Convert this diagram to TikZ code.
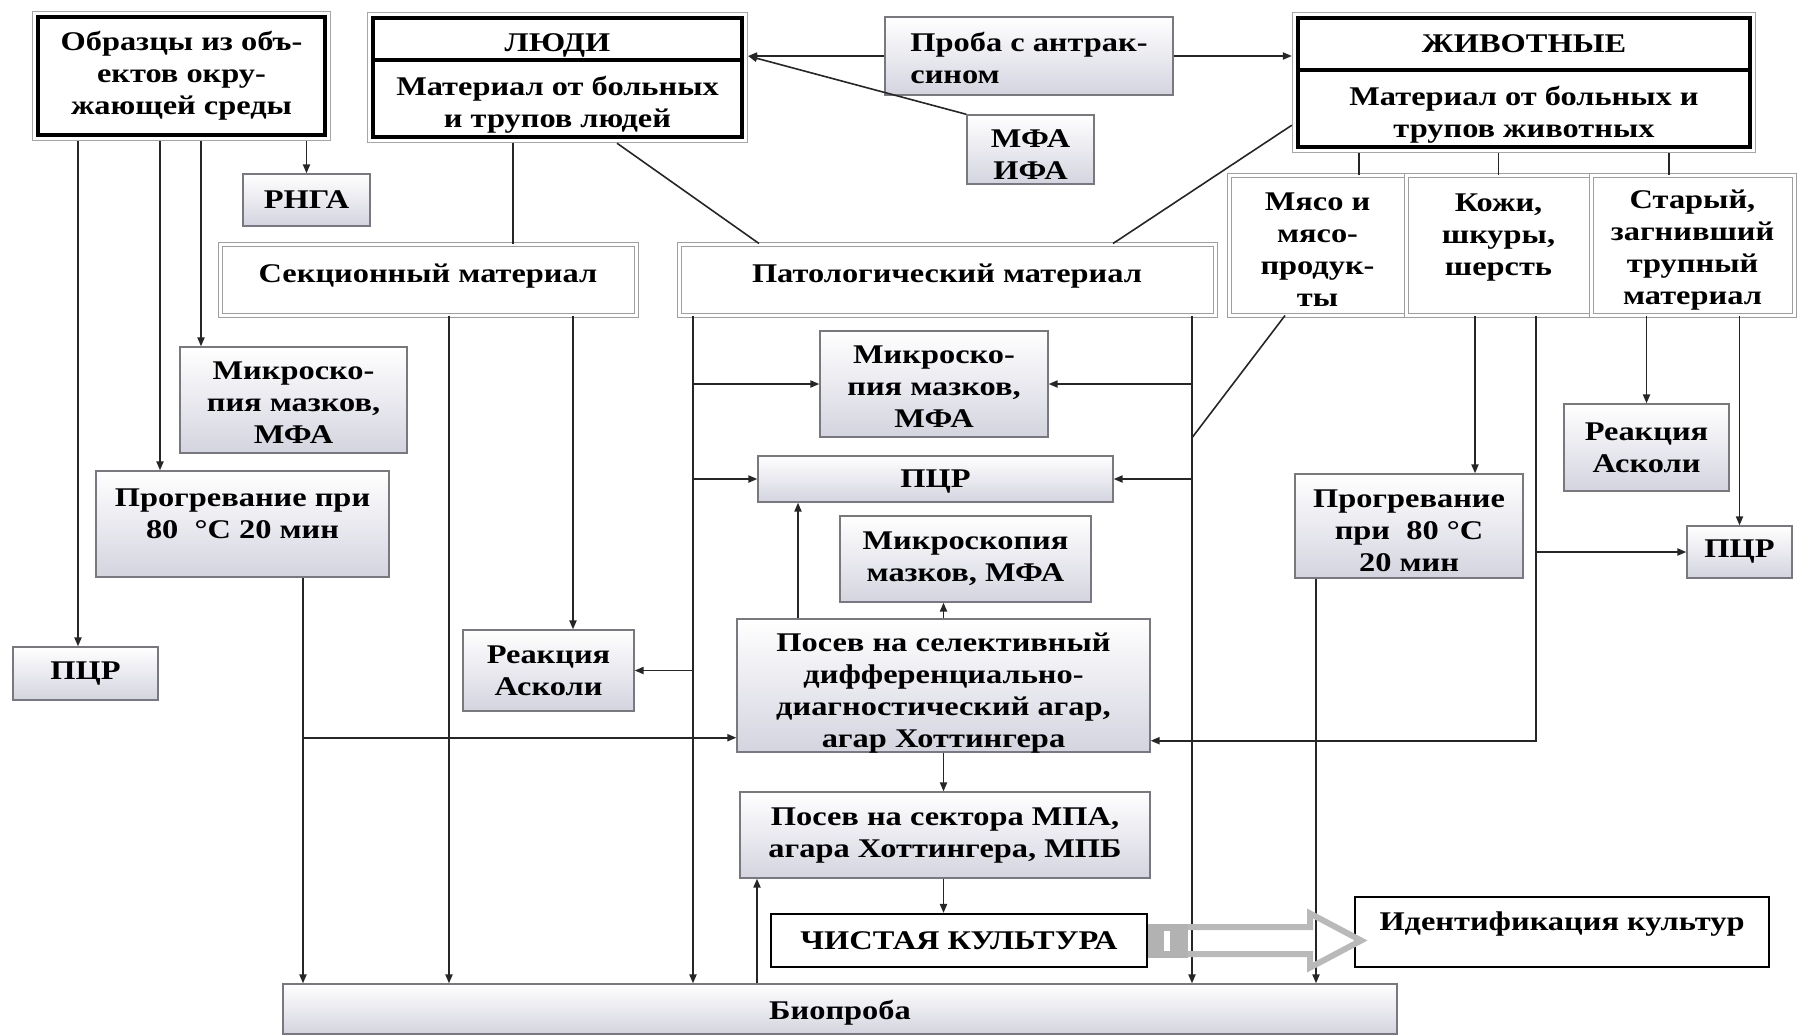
\documentclass[tikz,border=0pt]{standalone}
\usepackage{fontspec}
\setmainfont{Liberation Serif}[FakeStretch=1.2]
\usetikzlibrary{arrows.meta,calc,fit}

\definecolor{boxbot}{RGB}{212,212,224}
\definecolor{boxline}{RGB}{120,120,126}

\tikzset{
	txt/.style={font=\fontsize{13.5}{16}\selectfont\bfseries, align=center, inner sep=0pt},
	shbox/.style={draw=boxline, line width=0.7pt, inner sep=0pt, top color=white, bottom color=boxbot},
	dblbox/.style={draw=gray!75, line width=0.5pt, inner sep=0pt, double=white, double distance=1.5pt},
	topbox/.style={draw=black, line width=1.6pt, inner sep=0pt, fill=white},
	outframe/.style={draw=gray!70, line width=0.6pt, inner sep=2pt},
	plainbox/.style={draw=black, line width=1.1pt, inner sep=0pt, fill=white},
	arr/.style={-{Triangle[length=4.5pt,width=3.6pt]}, line width=0.8pt, draw=black!85},
	ln/.style={line width=0.8pt, draw=black!85},
	bigarr/.style={draw=gray!55, line width=3pt, line join=miter},
}

\begin{document}
\begin{tikzpicture}[x=0.5pt,y=0.5pt,yscale=-1]
	\useasboundingbox (0,0) rectangle (1798,1035);
	
	% Sources
	\node (obr) [topbox, fit={(38,17) (325,135)}, label={[txt]center:{Образцы из объ-\\ектов окру-\\жающей среды}}] {};
	\node (obrF) [outframe, fit=(obr)] {};
	\node (ludi) [topbox, fit={(373,18) (742,60)}, label={[txt,yshift=-3pt]center:{ЛЮДИ}}] {};
	\node (ludiM) [topbox, fit={(373,60) (742,137)}, label={[txt,yshift=-3pt]center:{Материал от больных\\и трупов людей}}] {};
	\node (ludiF) [outframe, fit={(ludi) (ludiM)}] {};
	\node (anim) [topbox, fit={(1298,18) (1750,70)}, label={[txt]center:{ЖИВОТНЫЕ}}] {};
	\node (animM) [topbox, fit={(1298,70) (1750,147)}, label={[txt,yshift=-3pt]center:{Материал от больных и\\трупов животных}}] {};
	\node (animF) [outframe, fit={(anim) (animM)}] {};
	\node (proba) [shbox, fit={(885,17) (1173,95)}, label={[txt,align=left,yshift=-1pt]center:{Проба с антрак-\\сином}}] {};
	\node (mfa) [shbox, fit={(967,115) (1094,184)}, label={[txt,yshift=-2.5pt]center:{МФА\\ИФА}}] {};
	
	% Materials
	\node (rnga) [shbox, fit={(243,174) (370,226)}, label={[txt]center:{РНГА}}] {};
	\node (sek) [dblbox, fit={(220,244) (636,315)}, label={[txt,yshift=1.5pt]center:{Секционный материал}}] {};
	\node (pat) [dblbox, fit={(679,244) (1215,315)}, label={[txt,yshift=1.5pt]center:{Патологический материал}}] {};
	\node (meat) [dblbox, fit={(1229,175) (1406,315)}, label={[txt,yshift=-2.5pt]center:{Мясо и\\мясо-\\продук-\\ты}}] {};
	\node (skin) [dblbox, fit={(1406,175) (1591,315)}, label={[txt,yshift=3.5pt]center:{Кожи,\\шкуры,\\шерсть}}] {};
	\node (old) [dblbox, fit={(1591,175) (1794,315)}, label={[txt,yshift=-2.5pt]center:{Старый,\\загнивший\\трупный\\материал}}] {};
	
	% Tests
	\node (micL) [shbox, fit={(180,347) (407,453)}, label={[txt,yshift=-1.5pt]center:{Микроско-\\пия мазков,\\МФА}}] {};
	\node (heatL) [shbox, fit={(96,471) (389,577)}, label={[txt,yshift=5pt]center:{Прогревание при\\80~~°C 20 мин}}] {};
	\node (pcrL) [shbox, fit={(13,647) (158,700)}, label={[txt]center:{ПЦР}}] {};
	\node (ascL) [shbox, fit={(463,630) (634,711)}, label={[txt]center:{Реакция\\Асколи}}] {};
	\node (micC) [shbox, fit={(820,331) (1048,437)}, label={[txt,yshift=-1.5pt]center:{Микроско-\\пия мазков,\\МФА}}] {};
	\node (pcrC) [shbox, fit={(758,456) (1113,502)}, label={[txt,yshift=-1.5pt]center:{ПЦР}}] {};
	\node (micD) [shbox, fit={(840,516) (1091,602)}, label={[txt]center:{Микроскопия\\мазков, МФА}}] {};
	\node (sel) [shbox, fit={(737,619) (1150,752)}, label={[txt,yshift=-4pt]center:{Посев на селективный\\дифференциально-\\диагностический агар,\\агар Хоттингера}}] {};
	\node (sect) [shbox, fit={(740,792) (1150,878)}, label={[txt]center:{Посев на сектора МПА,\\агара Хоттингера, МПБ}}] {};
	\node (cult) [plainbox, fit={(771,914) (1147,967)}, label={[txt]center:{ЧИСТАЯ КУЛЬТУРА}}] {};
	\node (ident) [plainbox, fit={(1355,897) (1769,967)}, label={[txt,yshift=4pt]center:{Идентификация культур}}] {};
	\node (bio) [shbox, fit={(283,984) (1397,1034)}, label={[txt,yshift=-2pt]center:{Биопроба}}] {};
	\node (heatR) [shbox, fit={(1295,474) (1523,578)}, label={[txt,yshift=-2.5pt]center:{Прогревание\\при~~80~°C\\20 мин}}] {};
	\node (ascR) [shbox, fit={(1564,404) (1729,491)}, label={[txt]center:{Реакция\\Асколи}}] {};
	\node (pcrR) [shbox, fit={(1687,526) (1792,578)}, label={[txt]center:{ПЦР}}] {};
	
	% Rails
	\coordinate (xA) at (78,0);
	\coordinate (xB) at (160,0);
	\coordinate (xC) at (201,0);
	\coordinate (xD) at (513,0);
	\coordinate (xE) at (303,0);
	\coordinate (xF) at (449,0);
	\coordinate (xG) at (573,0);
	\coordinate (xH) at (693,0);
	\coordinate (xI) at (1192,0);
	\coordinate (xJ) at (798,0);
	\coordinate (xK) at (757,0);
	\coordinate (xL) at (1359,0);
	\coordinate (xM) at (1669,0);
	\coordinate (xN) at (1475,0);
	\coordinate (xO) at (1536,0);
	\coordinate (xP) at (1316,0);
	\coordinate (xQ) at (617,0);
	\coordinate (xR) at (759,0);
	\coordinate (xS) at (1113,0);
	\coordinate (xT) at (1285,0);
	\coordinate (selL) at ($(sel.south west)+(0,-15)$);
	\coordinate (selR) at ($(sel.south east)+(0,-12)$);
	
	% Samples
	\draw[arr] (xA |- obrF.south) -- (xA |- pcrL.north);
	\draw[arr] (xB |- obrF.south) -- (xB |- heatL.north);
	\draw[arr] (xC |- obrF.south) -- (xC |- micL.north);
	\draw[arr] (rnga.north |- obrF.south) -- (rnga.north);
	\draw[arr] (xE |- heatL.south) -- (xE |- bio.north);
	\draw[arr] (xE |- selL) -- (selL);
	
	% People
	\draw[ln] (xD |- ludiF.south) -- (xD |- sek.north);
	\draw[ln] (xQ |- ludiF.south) -- (xR |- pat.north);
	\draw[arr] (proba.west) -- (ludiF.east |- proba.west);
	\draw[arr] (mfa.north west) -- (ludiF.east |- proba.west);
	\draw[arr] (proba.east) -- (animF.west |- proba.east);
	\draw[arr] (xF |- sek.south) -- (xF |- bio.north);
	\draw[arr] (xG |- sek.south) -- (xG |- ascL.north);
	
	% Pathological material
	\draw[arr] (xH |- pat.south) -- (xH |- bio.north);
	\draw[arr] (xH |- micC.west) -- (micC.west);
	\draw[arr] (xH |- pcrC.west) -- (pcrC.west);
	\draw[arr] (xH |- ascL.east) -- (ascL.east);
	\draw[arr] (xI |- pat.south) -- (xI |- bio.north);
	\draw[arr] (xI |- micC.east) -- (micC.east);
	\draw[arr] (xI |- pcrC.east) -- (pcrC.east);
	
	% Culture
	\draw[arr] (xJ |- sel.north) -- (xJ |- pcrC.south);
	\draw[arr] (sel.north) -- (sel.north |- micD.south);
	\draw[arr] (sel.south) -- (sel.south |- sect.north);
	\draw[arr] (sel.south |- sect.south) -- (sel.south |- cult.north);
	\draw[arr] (xK |- bio.north) -- (xK |- sect.south);
	
	% Animals
	\draw[ln] ($(animF.south west)+(0,-28)$) -- (xS |- pat.north);
	\draw[ln] (xL |- animF.south) -- (xL |- meat.north);
	\draw[ln] (skin.north |- animF.south) -- (skin.north);
	\draw[ln] (xM |- animF.south) -- (xM |- old.north);
	\draw[ln] (xT |- meat.south) -- (xI |- micC.south);
	\draw[arr] (xN |- skin.south) -- (xN |- heatR.north);
	\draw[arr] (xO |- skin.south) -- (xO |- selR) -- (selR);
	\draw[arr] (xO |- pcrR.west) -- (pcrR.west);
	\draw[arr] (ascR.north |- old.south) -- (ascR.north);
	\draw[arr] (pcrR.north |- old.south) -- (pcrR.north);
	\draw[arr] (xP |- heatR.south) -- (xP |- bio.north);
	
	% Block arrow
	\fill[gray!60, shift={(cult.east)}] (0,-17) rectangle (40,17);
	\fill[white, shift={(cult.east)}] (16,-10) rectangle (22,10);
	\draw[bigarr, shift={(cult.east)}] (40,-13.5) -- (162,-13.5) -- (162,-27) -- (213,0) -- (162,27) -- (162,13.5) -- (40,13.5);
\end{tikzpicture}
\end{document}
